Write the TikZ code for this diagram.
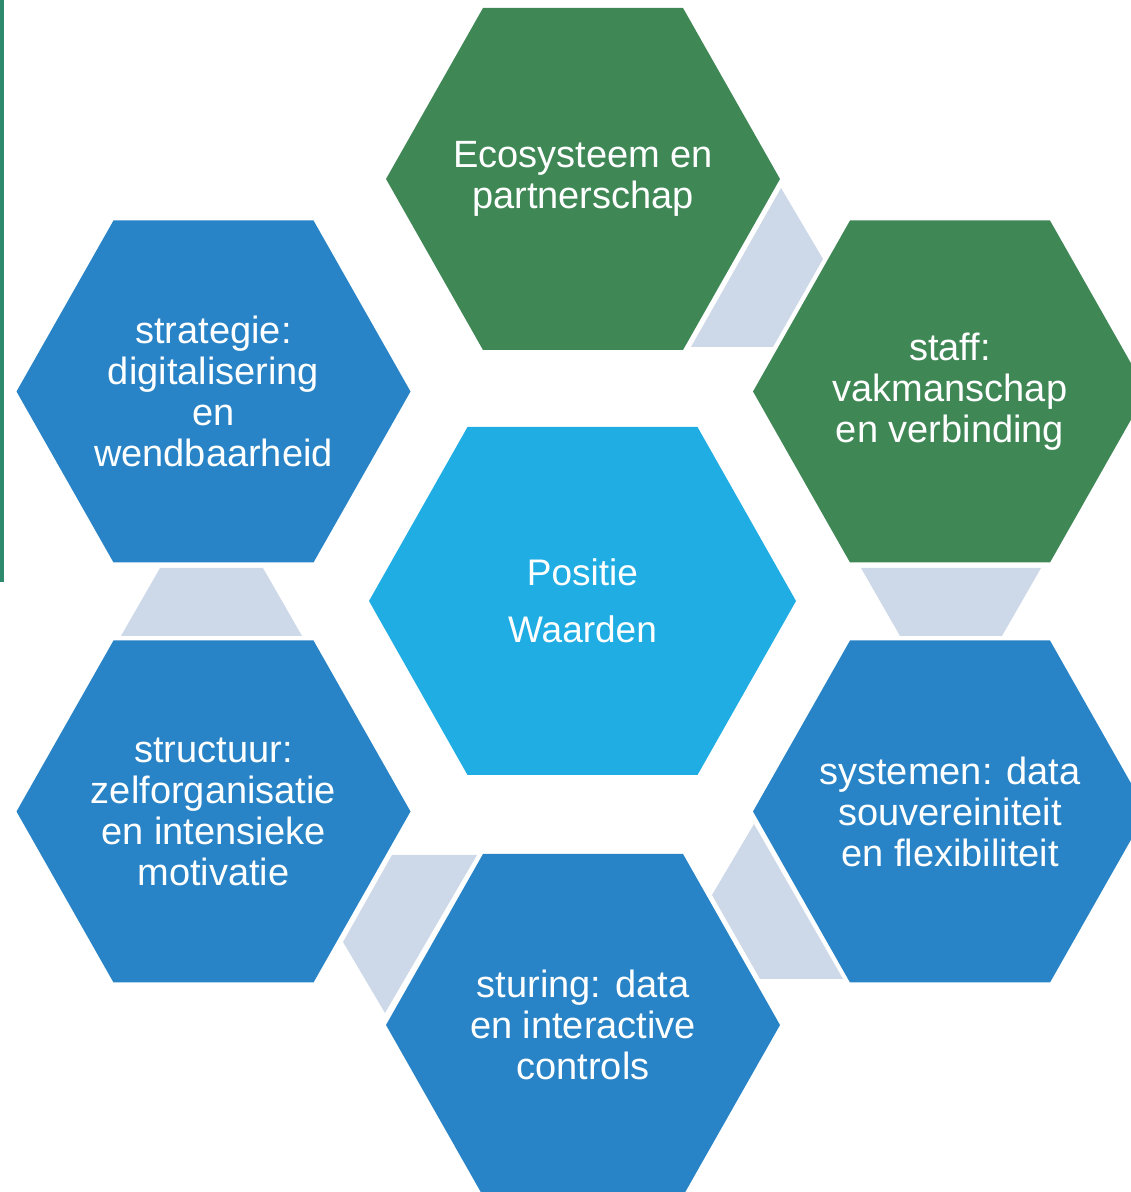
\documentclass[tikz,border=0pt]{standalone}
\usepackage{fontspec}
\setmainfont{Liberation Sans}
\usepackage{tikz}
\usetikzlibrary{backgrounds}
\pgfdeclarelayer{background}
\pgfsetlayers{background,main}

\definecolor{hexgreen}{HTML}{3F8856}
\definecolor{hexblue}{HTML}{2884C6}
\definecolor{hexcyan}{HTML}{1FADE3}
\definecolor{linkgrey}{HTML}{CDD8E9}
\definecolor{barteal}{HTML}{2E8A6C}

\tikzset{
  hextext/.style={text=white, align=center, inner sep=0pt,
    font=\fontsize{19}{20.5}\selectfont},
  midtext/.style={text=white, align=center, inner sep=0pt,
    font=\fontsize{18.5}{28.5}\selectfont},
  link/.style={fill=linkgrey},
}

% hexagon round a named centre: node, colour
\newcommand{\hexat}[2]{%
  \fill[#2] ([shift={(-197,0)}]#1.center) -- ([shift={(-100,171)}]#1.center)
    -- ([shift={(100,171)}]#1.center) -- ([shift={(197,0)}]#1.center)
    -- ([shift={(100,-171)}]#1.center) -- ([shift={(-100,-171)}]#1.center) -- cycle;}

\begin{document}
\begin{tikzpicture}[x=0.5pt, y=0.5pt]
  \useasboundingbox (0,0) rectangle (1130,1192);

  \node [hextext]  (eco)    at (583,1013)   {Ecosysteem en\\partnerschap};
  \node [hextext]  (staff)  at (950,800.5)  {staff:\\vakmanschap\\en verbinding};
  \node [hextext]  (strat)  at (213.5,800.5) {strategie:\\digitalisering\\en\\wendbaarheid};
  \node [hextext]  (struc)  at (213.5,380.5) {structuur:\\zelforganisatie\\en intensieke\\motivatie};
  \node [hextext]  (syst)   at (950,380.5)  {systemen: data\\souvereiniteit\\en flexibiliteit};
  \node [hextext]  (stur)   at (583,167)    {sturing: data\\en interactive\\controls};
  \node [midtext]  (pos)    at (582.5,591)  {Positie\\Waarden};

  \begin{pgfonlayer}{background}
    \hexat{eco}{hexgreen}
    \hexat{staff}{hexgreen}
    \hexat{strat}{hexblue}
    \hexat{struc}{hexblue}
    \hexat{syst}{hexblue}
    \hexat{stur}{hexblue}
    \fill[hexcyan] ([shift={(-213.5,0)}]pos.center) -- ([shift={(-115,174)}]pos.center)
      -- ([shift={(115,174)}]pos.center) -- ([shift={(213.5,0)}]pos.center)
      -- ([shift={(115,-174)}]pos.center) -- ([shift={(-115,-174)}]pos.center) -- cycle;

    % links between the outer hexagons
    \fill[link] (781,1004) -- (823,933) -- (773,845) -- (691,845) -- cycle;
    \fill[link] (861,624) -- (1041,624) -- (1002,556) -- (900,556) -- cycle;
    \fill[link] (754,368) -- (712,297) -- (760,213) -- (843,213) -- cycle;
    \fill[link] (392,337) -- (477,337) -- (385,179) -- (343,250) -- cycle;
    \fill[link] (160,624) -- (263,624) -- (302,556) -- (121,556) -- cycle;

    \fill[barteal] (0,610) rectangle (3.5,1192);
  \end{pgfonlayer}
\end{tikzpicture}
\end{document}
